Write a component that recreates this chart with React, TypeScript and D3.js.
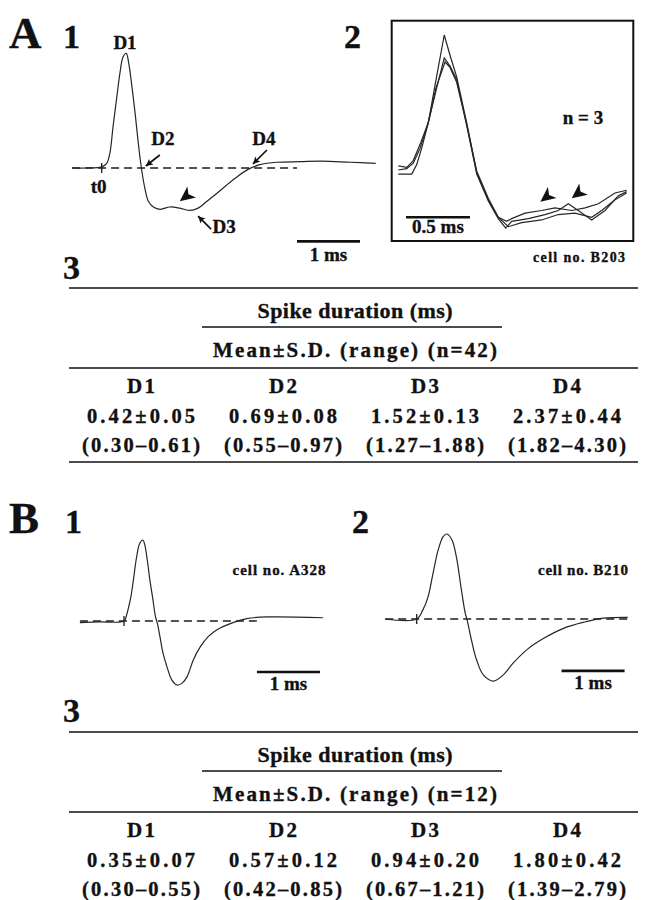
import * as d3 from 'd3';

type Pt = [number, number];

// traces: [time from t0 (ms), amplitude as a fraction of the spike peak]
const traceA1: Pt[] = [
  [-0.47, 0], [-0.24, 0], [0, 0.01], [0.08, 0.04], [0.13, 0.13], [0.18, 0.36], [0.24, 0.62],
  [0.29, 0.83], [0.34, 0.97], [0.39, 1.0], [0.43, 0.91], [0.48, 0.71], [0.53, 0.48], [0.58, 0.22],
  [0.63, 0], [0.69, -0.19], [0.74, -0.29], [0.82, -0.34], [0.93, -0.36], [1.08, -0.34],
  [1.24, -0.35], [1.4, -0.37], [1.53, -0.35], [1.67, -0.29], [1.83, -0.22], [1.98, -0.15],
  [2.14, -0.08], [2.33, -0.01], [2.51, 0.03], [2.78, 0.05], [3.15, 0.055], [3.49, 0.06],
  [3.94, 0.05], [4.35, 0.04],
];

// A2: three superimposed sweeps, time from sweep start (ms)
const traceA2a: Pt[] = [
  [0, 0.03], [0.066, 0.02], [0.117, 0.07], [0.17, 0.19], [0.234, 0.35], [0.295, 0.67], [0.359, 1.0],
  [0.404, 0.85], [0.456, 0.69], [0.534, 0.35], [0.613, -0.02], [0.703, -0.22], [0.781, -0.35],
  [0.847, -0.38], [0.886, -0.36], [0.99, -0.32], [1.12, -0.3], [1.224, -0.28], [1.355, -0.3],
  [1.459, -0.28], [1.563, -0.25], [1.693, -0.17], [1.784, -0.15],
];
const traceA2b: Pt[] = [
  [0, 0], [0.066, 0.01], [0.117, 0.05], [0.17, 0.16], [0.234, 0.35], [0.295, 0.59], [0.359, 0.83],
  [0.404, 0.77], [0.456, 0.67], [0.534, 0.33], [0.613, -0.03], [0.703, -0.23], [0.781, -0.36],
  [0.839, -0.43], [0.886, -0.38], [1.016, -0.36], [1.146, -0.33], [1.25, -0.3], [1.328, -0.25],
  [1.406, -0.3], [1.511, -0.37], [1.615, -0.3], [1.719, -0.19], [1.784, -0.16],
];
const traceA2c: Pt[] = [
  [0, -0.03], [0.105, -0.03], [0.144, 0.04], [0.185, 0.17], [0.234, 0.35], [0.295, 0.61],
  [0.365, 0.8], [0.404, 0.76], [0.456, 0.65], [0.534, 0.34], [0.613, -0.01], [0.703, -0.21],
  [0.781, -0.35], [0.859, -0.42], [0.964, -0.39], [1.12, -0.37], [1.25, -0.33], [1.38, -0.32],
  [1.511, -0.35], [1.589, -0.3], [1.693, -0.22], [1.784, -0.17],
];

const traceB1: Pt[] = [
  [-0.7, -0.02], [-0.38, -0.01], [0, 0], [0.04, 0.07], [0.07, 0.16], [0.11, 0.3], [0.15, 0.51],
  [0.2, 0.79], [0.25, 0.96], [0.3, 1.0], [0.33, 0.94], [0.37, 0.75], [0.41, 0.51], [0.46, 0.26],
  [0.5, 0.05], [0.53, -0.03], [0.57, -0.19], [0.62, -0.4], [0.68, -0.56], [0.76, -0.73],
  [0.84, -0.79], [0.92, -0.77], [1.0, -0.69], [1.1, -0.48], [1.21, -0.32], [1.34, -0.19],
  [1.47, -0.11], [1.73, -0.02], [1.95, 0.03], [2.27, 0.05], [3.16, 0.04],
];
const traceB2: Pt[] = [
  [-0.5, 0], [0, 0], [0.1, 0.11], [0.18, 0.26], [0.26, 0.54], [0.34, 0.81], [0.42, 0.97],
  [0.48, 1.0], [0.56, 0.93], [0.63, 0.73], [0.71, 0.34], [0.77, 0.07], [0.8, -0.01], [0.87, -0.25],
  [0.95, -0.48], [1.06, -0.66], [1.22, -0.73], [1.37, -0.66], [1.53, -0.52], [1.75, -0.36],
  [2.01, -0.23], [2.33, -0.11], [2.64, -0.04], [2.96, 0.01], [3.35, 0.02],
];

// table values
const durations = ['D1', 'D2', 'D3', 'D4'];
const meanSdA = ['0.42±0.05', '0.69±0.08', '1.52±0.13', '2.37±0.44'];
const rangeA = ['(0.30–0.61)', '(0.55–0.97)', '(1.27–1.88)', '(1.82–4.30)'];
const meanSdB = ['0.35±0.07', '0.57±0.12', '0.94±0.20', '1.80±0.42'];
const rangeB = ['(0.30–0.55)', '(0.42–0.85)', '(0.67–1.21)', '(1.39–2.79)'];
const nA = 42;
const nB = 12;

const FONT = '"Liberation Serif", "Times New Roman", serif';
const INK = '#111';
const TRACE = '#262626';

function scales(x0: number, pxPerMs: number, y0: number, pxPerUnit: number) {
  const x = d3.scaleLinear().domain([0, 1]).range([x0, x0 + pxPerMs]);
  const y = d3.scaleLinear().domain([0, 1]).range([y0, y0 - pxPerUnit]);
  return { x, y };
}

type S = ReturnType<typeof scales>;

function Trace({ pts, s, curve }: { pts: Pt[]; s: S; curve: d3.CurveFactory }) {
  const line = d3.line<Pt>().x(d => s.x(d[0])).y(d => s.y(d[1])).curve(curve);
  return <path d={line(pts) || ''} fill="none" stroke={TRACE} strokeWidth={1.2} />;
}

function Baseline({ s, t0, t1 }: { s: S; t0: number; t1: number }) {
  return (
    <g stroke="#1c1c1c" strokeWidth={1.3}>
      <line x1={s.x(t0)} x2={s.x(t1)} y1={s.y(0)} y2={s.y(0)} strokeDasharray="8 5" />
      <line x1={s.x(0)} x2={s.x(0)} y1={s.y(0) - 5} y2={s.y(0) + 5} />
    </g>
  );
}

function ScaleBar({ s, t0, t1, a, label, dy }: { s: S; t0: number; t1: number; a: number; label: string; dy: number }) {
  const y = s.y(a);
  return (
    <g>
      <line x1={s.x(t0)} x2={s.x(t1)} y1={y} y2={y} stroke={INK} strokeWidth={2.6} />
      <Label x={(s.x(t0) + s.x(t1)) / 2} y={y + dy} size={19}>{label}</Label>
    </g>
  );
}

function Head({ x, y, angle, len = 15, half = 7, notch = 4 }: { x: number; y: number; angle: number; len?: number; half?: number; notch?: number }) {
  return (
    <path d={`M0,0 L${-len},${-half} L${-len + notch},0 L${-len},${half} Z`}
      transform={`translate(${x},${y}) rotate(${angle})`} fill={INK} />
  );
}

function Arrow({ tip, tail }: { tip: Pt; tail: Pt }) {
  const ang = (Math.atan2(tip[1] - tail[1], tip[0] - tail[0]) * 180) / Math.PI;
  return (
    <g>
      <line x1={tail[0]} y1={tail[1]} x2={tip[0]} y2={tip[1]} stroke={INK} strokeWidth={1.7} />
      <Head x={tip[0]} y={tip[1]} angle={ang} len={7} half={3.5} notch={1.5} />
    </g>
  );
}

function Label({ x, y, size, children, anchor = 'middle', len }: { x: number; y: number; size: number; children: any; anchor?: string; len?: number }) {
  return (
    <text x={x} y={y} fontSize={size} fontWeight="bold" fontFamily={FONT} textAnchor={anchor as any} fill={INK}
      stroke={INK} strokeWidth={0.35}
      textLength={len} lengthAdjust={len ? 'spacing' : undefined}>{children}</text>
  );
}

function Table({ top, n, meanSd, range, bottomRule }: { top: number; n: number; meanSd: string[]; range: string[]; bottomRule: boolean }) {
  const col = d3.scaleBand<string>().domain(durations).range([70, 638]);
  const cx = (d: string) => (col(d) || 0) + col.bandwidth() / 2;
  const rule = (y: number, x1 = 69, x2 = 638) => <line x1={x1} x2={x2} y1={y} y2={y} stroke={INK} strokeWidth={1.5} />;
  return (
    <g>
      {rule(top)}
      <Label x={355} y={top + 30} size={22} len={195}>Spike duration (ms)</Label>
      {rule(top + 39, 202, 502)}
      <Label x={355} y={top + 69} size={21} len={284}>{`Mean±S.D.  (range)  (n=${n})`}</Label>
      {rule(top + 80)}
      {durations.map((d, i) => (
        <g key={d}>
          <Label x={cx(d)} y={top + 105} size={21} len={28}>{d}</Label>
          <Label x={cx(d)} y={top + 135} size={20.5} len={108}>{meanSd[i]}</Label>
          <Label x={cx(d)} y={top + 164} size={20.5} len={118}>{range[i]}</Label>
        </g>
      ))}
      {bottomRule && rule(top + 174)}
    </g>
  );
}

export default function App() {
  const a1 = scales(101.7, 63, 168, 114.7);
  const a2 = scales(398.3, 128, 170, 135);
  const b1 = scales(124, 63, 621, 81);
  const b2 = scales(416.7, 63, 619, 85);
  const smooth = d3.curveCatmullRom.alpha(0.5);

  const pA = (s: S, t: number, a: number, dx = 0, dy = 0): Pt => [s.x(t) + dx, s.y(a) + dy];

  return (
    <svg width={645} height={900} style={{ position: 'absolute', left: 0, top: 0, background: '#fff' }}>
      <rect width={645} height={900} fill="#fff" />

      {/* panel letters */}
      <Label x={9} y={48} size={45} anchor="start">A</Label>
      <Label x={63} y={48} size={34} anchor="start">1</Label>
      <Label x={344} y={48} size={34} anchor="start">2</Label>
      <Label x={63} y={279} size={34} anchor="start">3</Label>
      <Label x={9} y={533} size={45} anchor="start">B</Label>
      <Label x={65} y={533} size={34} anchor="start">1</Label>
      <Label x={352} y={533} size={34} anchor="start">2</Label>
      <Label x={63} y={722} size={34} anchor="start">3</Label>

      {/* A1 */}
      <Baseline s={a1} t0={-0.47} t1={3.1} />
      <Trace pts={traceA1} s={a1} curve={smooth} />
      <Label x={a1.x(0.37)} y={a1.y(1) - 4} size={19}>D1</Label>
      <Label x={a1.x(0.7) + 17} y={a1.y(0) - 23} size={19}>D2</Label>
      <Label x={a1.x(2.4) + 11} y={a1.y(0) - 23} size={19}>D4</Label>
      <Label x={a1.x(0) - 3} y={a1.y(0) + 25} size={19}>t0</Label>
      <Label x={a1.x(1.53) + 26} y={a1.y(-0.35) + 25} size={19}>D3</Label>
      <Arrow tip={pA(a1, 0.7, 0, 0, -2)} tail={pA(a1, 0.7, 0, 14, -13)} />
      <Arrow tip={pA(a1, 2.4, 0, 0, -4)} tail={pA(a1, 2.4, 0, 14, -18)} />
      <Arrow tip={pA(a1, 1.53, -0.35, 0, 8)} tail={pA(a1, 1.53, -0.35, 13, 21)} />
      <Head x={a1.x(1.24)} y={a1.y(-0.35) - 7} angle={142} />
      <ScaleBar s={a1} t0={3.1} t1={4.1} a={-0.64} label="1 ms" dy={20} />

      {/* A2 */}
      <rect x={391.7} y={20.7} width={241.6} height={220.3} fill="none" stroke={INK} strokeWidth={2} />
      {[traceA2a, traceA2b, traceA2c].map((t, i) => (
        <Trace key={i} pts={t} s={a2} curve={d3.curveLinear} />
      ))}
      <Head x={a2.x(1.11)} y={a2.y(-0.235)} angle={142} />
      <Head x={a2.x(1.355)} y={a2.y(-0.21)} angle={142} />
      <Label x={583} y={124} size={19}>n = 3</Label>
      <ScaleBar s={a2} t0={0.06} t1={0.56} a={-0.35} label="0.5 ms" dy={16} />
      <Label x={579} y={262} size={14} len={92}>cell no. B203</Label>

      {/* A3 */}
      <Table top={288} n={nA} meanSd={meanSdA} range={rangeA} bottomRule />

      {/* B1 */}
      <Baseline s={b1} t0={-0.7} t1={2.13} />
      <Trace pts={traceB1} s={b1} curve={smooth} />
      <ScaleBar s={b1} t0={2.11} t1={3.11} a={-0.63} label="1 ms" dy={18} />
      <Label x={279} y={575} size={15} len={93}>cell no. A328</Label>

      {/* B2 */}
      <Baseline s={b2} t0={-0.5} t1={3.35} />
      <Trace pts={traceB2} s={b2} curve={smooth} />
      <ScaleBar s={b2} t0={2.3} t1={3.3} a={-0.61} label="1 ms" dy={18} />
      <Label x={583} y={575} size={15} len={90}>cell no. B210</Label>

      {/* B3 */}
      <Table top={732} n={nB} meanSd={meanSdB} range={rangeB} bottomRule={false} />
    </svg>
  );
}
